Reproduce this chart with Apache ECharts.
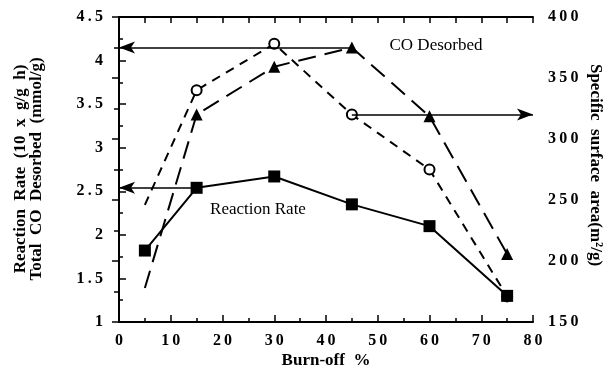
<!DOCTYPE html>
<html>
<head>
<meta charset="utf-8">
<script src="https://cdn.jsdelivr.net/npm/echarts@6/dist/echarts.min.js"></script>
<style>
    html, body { margin: 0; padding: 0; background: #fff; }
    #chart { width: 608px; height: 368px; }
</style>
</head>
<body>
<div id="chart"></div>
<script>
// burn-off (%) positions of the measured samples
const burnOff = [5, 15, 30, 45, 60, 75];
// reaction rate, left axis
const reactionRate = [1.82, 2.54, 2.67, 2.35, 2.10, 1.30];
// total CO desorbed, left axis (first point is drawn without a marker)
const coDesorbed = [1.39, 3.38, 3.93, 4.15, 3.36, 1.78];
// specific surface area, right axis (first point is drawn without a marker)
const surfaceArea = [246, 340, 378, 320, 275, 171];

const SERIF = '"Liberation Serif", "Times New Roman", serif';
const spaced = v => String(v).split('').join('\u2009');

const chart = echarts.init(document.getElementById('chart'));

function pairs(ys, hideFirst) {
    return burnOff.map((x, i) => {
        if (hideFirst && i === 0) {
            return {value: [x, ys[i]], symbol: 'none'};
        }
        return [x, ys[i]];
    });
}

const arrowLine = {
    silent: true,
    symbol: ['none', 'arrow'],
    symbolSize: [9, 16],
    label: {show: false},
    lineStyle: {color: '#000', width: 1.5, type: 'solid'},
    emphasis: {disabled: true}
};

const tickLabel = {
    color: '#000',
    fontFamily: SERIF,
    fontWeight: 'bold',
    fontSize: 16,
    formatter: spaced
};

const options = {
    animation: false,
    backgroundColor: '#fff',
    grid: {
        left: 119,
        right: 75,
        top: 17,
        bottom: 46,
        containLabel: false
    },
    xAxis: [{
        type: 'value',
        min: 0,
        max: 80,
        interval: 10,
        position: 'bottom',
        axisLine: {show: true, lineStyle: {color: '#000', width: 2}},
        axisTick: {show: true, inside: true, length: 7, lineStyle: {color: '#000', width: 1.5}},
        minorTick: {show: true, splitNumber: 2, length: 4, lineStyle: {color: '#000', width: 1.5}},
        splitLine: {show: false},
        axisLabel: Object.assign({margin: 11}, tickLabel)
    }, {
        type: 'value',
        min: 0,
        max: 80,
        interval: 5,
        position: 'top',
        axisLine: {show: true, lineStyle: {color: '#000', width: 2}},
        axisTick: {show: true, inside: true, length: 6, lineStyle: {color: '#000', width: 1.5}},
        splitLine: {show: false},
        axisLabel: {show: false}
    }],
    yAxis: [{
        type: 'value',
        min: 1,
        max: 4.5,
        interval: 0.5,
        position: 'left',
        axisLine: {show: true, lineStyle: {color: '#000', width: 2}},
        axisTick: {show: true, inside: true, length: 7, lineStyle: {color: '#000', width: 1.5}},
        minorTick: {show: true, splitNumber: 2, length: 4, lineStyle: {color: '#000', width: 1.5}},
        splitLine: {show: false},
        axisLabel: Object.assign({margin: 16}, tickLabel)
    }, {
        type: 'value',
        min: 150,
        max: 400,
        interval: 50,
        position: 'right',
        axisLine: {show: true, lineStyle: {color: '#000', width: 2}},
        axisTick: {show: true, inside: true, length: 7, lineStyle: {color: '#000', width: 1.5}},
        minorTick: {show: true, splitNumber: 2, length: 5, lineStyle: {color: '#000', width: 1.5}},
        splitLine: {show: false},
        axisLabel: Object.assign({margin: 15}, tickLabel)
    }],
    series: [{
        name: 'Reaction Rate',
        type: 'line',
        xAxisIndex: 0,
        yAxisIndex: 0,
        data: pairs(reactionRate, false),
        symbol: 'rect',
        symbolSize: 12,
        itemStyle: {color: '#000'},
        lineStyle: {color: '#000', width: 2},
        z: 4,
        markLine: Object.assign({}, arrowLine, {
            data: [[
                {coord: [burnOff[1], reactionRate[1]]},
                {coord: [0, reactionRate[1]]}
            ]]
        })
    }, {
        name: 'CO Desorbed',
        type: 'line',
        xAxisIndex: 0,
        yAxisIndex: 0,
        data: pairs(coDesorbed, true),
        symbol: 'triangle',
        symbolSize: 12,
        itemStyle: {color: '#000'},
        lineStyle: {color: '#000', width: 2, type: [18, 9]},
        z: 3,
        markLine: Object.assign({}, arrowLine, {
            data: [[
                {coord: [burnOff[3], coDesorbed[3]]},
                {coord: [0, coDesorbed[3]]}
            ]]
        })
    }, {
        name: 'Specific surface area',
        type: 'line',
        xAxisIndex: 0,
        yAxisIndex: 1,
        data: pairs(surfaceArea, true),
        symbol: 'emptyCircle',
        symbolSize: 10,
        itemStyle: {color: '#000', borderColor: '#000', borderWidth: 1.8},
        lineStyle: {color: '#000', width: 2, type: [9, 7]},
        z: 3,
        markLine: Object.assign({}, arrowLine, {
            data: [[
                {coord: [burnOff[3], surfaceArea[3]]},
                {coord: [80, surfaceArea[3]]}
            ]]
        })
    }],
    graphic: [{
        type: 'text',
        x: 21,
        y: 169,
        rotation: Math.PI / 2,
        style: {
            text: 'Reaction  Rate  (10  x  g/g  h)',
            font: 'bold 17px ' + SERIF,
            fill: '#000',
            align: 'center',
            verticalAlign: 'middle'
        }
    }, {
        type: 'text',
        x: 37,
        y: 169,
        rotation: Math.PI / 2,
        style: {
            text: 'Total  CO  Desorbed  (mmol/g)',
            font: 'bold 17px ' + SERIF,
            fill: '#000',
            align: 'center',
            verticalAlign: 'middle'
        }
    }, {
        type: 'text',
        x: 595,
        y: 165,
        rotation: -Math.PI / 2,
        style: {
            text: 'Specific  surface  area(m\u00b2/g)',
            font: 'bold 17px ' + SERIF,
            fill: '#000',
            align: 'center',
            verticalAlign: 'middle'
        }
    }, {
        type: 'text',
        x: 326,
        y: 361,
        style: {
            text: 'Burn-off  %',
            font: 'bold 17px ' + SERIF,
            fill: '#000',
            align: 'center',
            verticalAlign: 'middle'
        }
    }, {
        type: 'text',
        x: 436,
        y: 46,
        style: {
            text: 'CO Desorbed',
            font: '17px ' + SERIF,
            fill: '#000',
            align: 'center',
            verticalAlign: 'middle'
        }
    }, {
        type: 'text',
        x: 258,
        y: 210,
        style: {
            text: 'Reaction Rate',
            font: '17px ' + SERIF,
            fill: '#000',
            align: 'center',
            verticalAlign: 'middle'
        }
    }]
};

chart.setOption(options);
</script>
</body>
</html>
